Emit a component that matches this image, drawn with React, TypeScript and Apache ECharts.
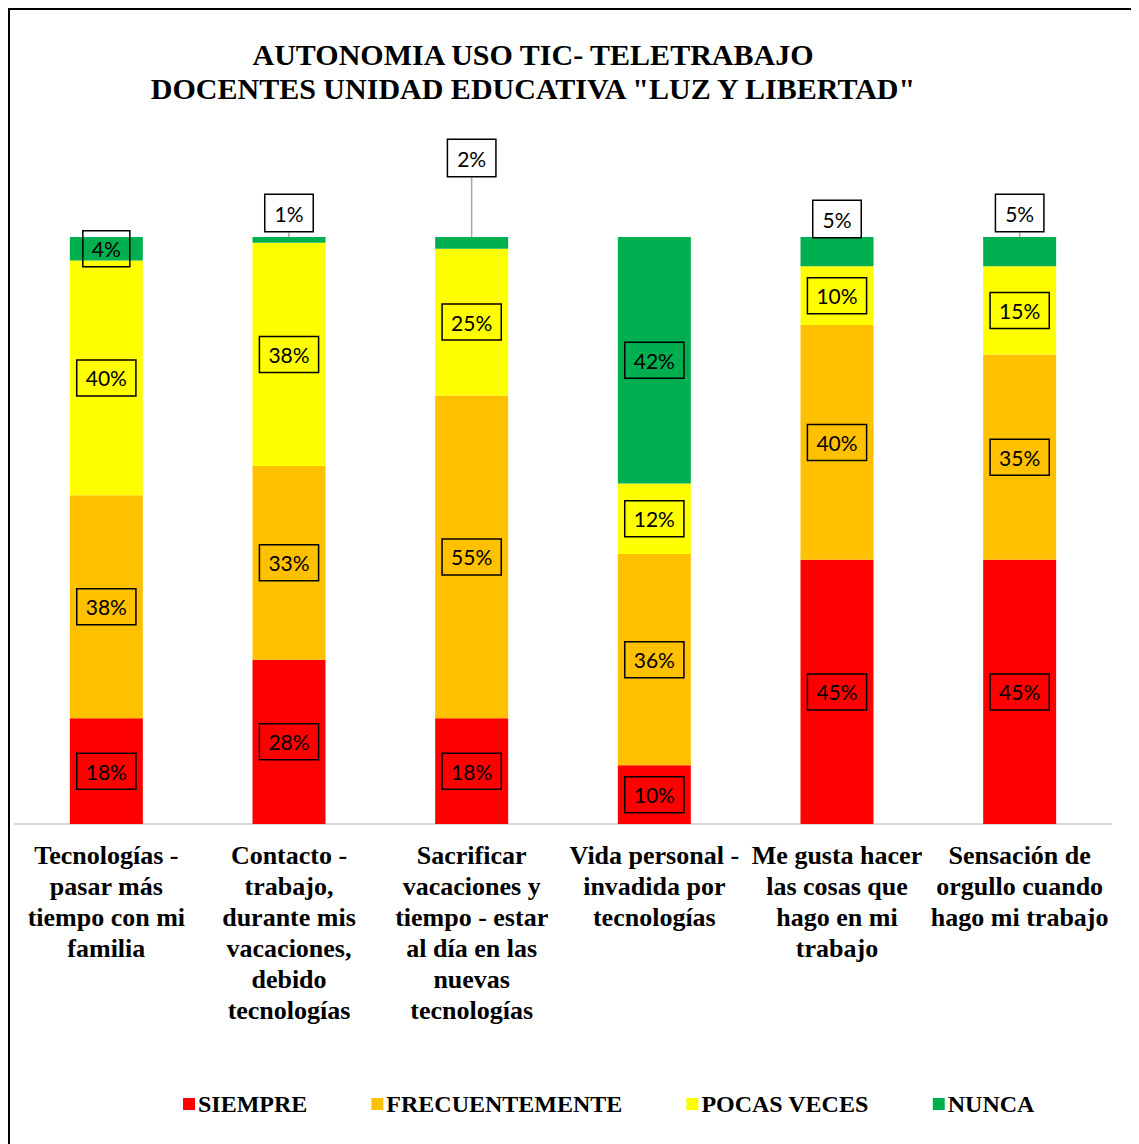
import React, { useEffect, useRef } from "react";
import * as echarts from "echarts";

const categories = [
  "Tecnologías -\npasar más\ntiempo con mi\nfamilia",
  "Contacto -\ntrabajo,\ndurante mis\nvacaciones,\ndebido\ntecnologías",
  "Sacrificar\nvacaciones y\ntiempo - estar\nal día en las\nnuevas\ntecnologías",
  "Vida personal -\ninvadida por\ntecnologías",
  "Me gusta hacer\nlas cosas que\nhago en mi\ntrabajo",
  "Sensación de\norgullo cuando\nhago mi trabajo",
];
const siempre = [18, 28, 18, 10, 45, 45];
const frecuentemente = [38, 33, 55, 36, 40, 35];
const pocasVeces = [40, 38, 25, 12, 10, 15];
const nunca = [4, 1, 2, 42, 5, 5];
const seriesNames = ["SIEMPRE", "FRECUENTEMENTE", "POCAS VECES", "NUNCA"];
const colors = ["#FF0000", "#FFC000", "#FFFF00", "#00B050"];

const LABEL_FONT = "Lato, 'Open Sans', sans-serif";
const SERIF = "'Liberation Serif', 'Times New Roman', serif";

export default function App() {
  const ref = useRef<HTMLDivElement>(null);
  useEffect(() => {
    if (!ref.current) return;
    const chart = echarts.init(ref.current, null, { renderer: "svg" });
    const boxLabel = {
      show: true,
      position: "inside",
      formatter: "{c}%",
      fontFamily: LABEL_FONT,
      fontSize: 21,
      color: "#000",
      borderColor: "#000",
      borderWidth: 1.5,
      padding: [8, 9, 7, 9],
    };
    const mk = (name: string, data: any[], i: number) => ({
      name,
      type: "bar",
      stack: "total",
      barWidth: 73,
      itemStyle: { color: colors[i] },
      label: boxLabel,
      data,
    });
    const nuncaData = nunca.map((v, idx) => {
      if (v >= 10 || idx === 0) return v;
      return {
        value: v,
        label: {
          position: "top",
          distance: idx === 4 ? 0 : 6,
          backgroundColor: "#fff",
        },
      };
    });
    const option = {
      animation: false,
      title: {
        text: 'AUTONOMIA USO TIC- TELETRABAJO\nDOCENTES UNIDAD EDUCATIVA "LUZ Y LIBERTAD"',
        left: 518,
        top: 22,
        textAlign: "center",
        textStyle: {
          fontFamily: SERIF,
          fontWeight: "bold",
          fontSize: 30,
          lineHeight: 34,
          color: "#000",
        },
      },
      legend: {
        bottom: 23,
        left: 168,
        itemWidth: 12,
        itemHeight: 12,
        itemGap: 64,
        icon: "rect",
        textStyle: {
          fontFamily: SERIF,
          fontWeight: "bold",
          fontSize: 24,
          color: "#000",
          padding: [0, 0, 0, -2],
        },
        data: seriesNames,
      },
      grid: { left: 5, right: 28, top: 227, bottom: 320 },
      xAxis: {
        type: "category",
        data: categories,
        axisLine: { lineStyle: { color: "#D9D9D9", width: 2 } },
        axisTick: { show: false },
        axisLabel: {
          interval: 0,
          margin: 16,
          fontFamily: SERIF,
          fontWeight: "bold",
          fontSize: 26,
          lineHeight: 31,
          color: "#000",
        },
      },
      yAxis: {
        type: "value",
        min: 0,
        max: 100,
        show: false,
        splitLine: { show: false },
      },
      series: [
        mk(seriesNames[0], siempre, 0),
        mk(seriesNames[1], frecuentemente, 1),
        mk(seriesNames[2], pocasVeces, 2),
        {
          ...mk(seriesNames[3], nuncaData, 3),
          labelLine: { show: true, lineStyle: { color: "#A6A6A6", width: 1.5 } },
          labelLayout: (params: any) =>
            params.dataIndex === 2 ? { dy: -55 } : {},
        },
      ],
    };
    chart.setOption(option as any);
    return () => chart.dispose();
  }, []);
  return (
    <div
      style={{
        width: 1131,
        height: 1136,
        boxSizing: "border-box",
        borderTop: "2px solid #000",
        borderLeft: "2px solid #000",
        background: "#fff",
      }}
    >
      <div ref={ref} style={{ width: 1129, height: 1134 }} />
    </div>
  );
}
